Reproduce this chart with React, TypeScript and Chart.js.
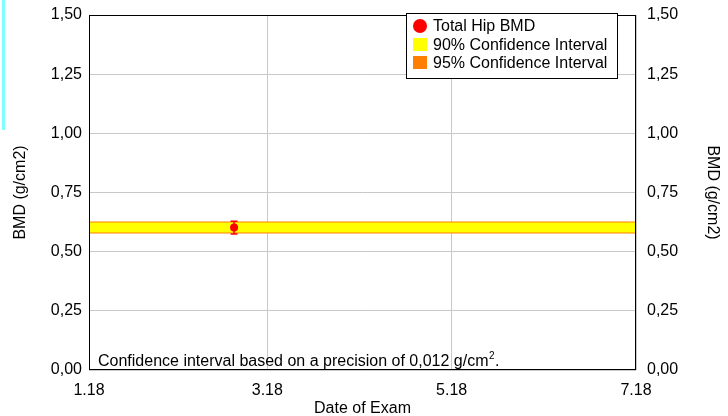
import React, { useEffect, useRef } from "react";
import { Chart, registerables } from "chart.js";

Chart.register(...registerables);

// ---- data ----
const tickDates = ["2018-01-01", "2018-03-01", "2018-05-01", "2018-07-01"];
const tickLabels = ["1.18", "3.18", "5.18", "7.18"];
const examDates = ["2018-02-18"];
const bmdValues = [0.602];
const bmdErrLow = [0.575];
const bmdErrHigh = [0.629];
const ci90 = [0.581, 0.623];
const ci95 = [0.577, 0.627];
const yMin = 0;
const yMax = 1.5;
const yStep = 0.25;
const legendLabels = ["Total Hip BMD", "90% Confidence Interval", "95% Confidence Interval"];
const noteText = "Confidence interval based on a precision of 0,012 g/cm";
const noteSup = "2";
const noteEnd = ".";
const xTitle = "Date of Exam";
const yTitle = "BMD (g/cm2)";

const FONT = "'Liberation Sans', Arial, sans-serif";
const RED = "#ff0000";
const YELLOW = "#ffff00";
const ORANGE = "#ff8000";
const GRID = "#c8c8c8";

const day = (s: string) => (Date.parse(s) - Date.parse(tickDates[0])) / 86400000;
const tickDays = tickDates.map(day);
const xMin = tickDays[0];
const xMax = tickDays[tickDays.length - 1];

const fmtY = (v: number) => v.toFixed(2).replace(".", ",");

const overlayPlugin = {
  id: "overlay",
  afterDatasetsDraw(chart: any) {
    const { ctx, scales } = chart;
    const xs = scales.x;
    const ys = scales.y;
    ctx.save();
    ctx.strokeStyle = RED;
    ctx.lineWidth = 1.5;
    examDates.forEach((d, i) => {
      const px = xs.getPixelForValue(day(d));
      const pLo = ys.getPixelForValue(bmdErrLow[i]);
      const pHi = ys.getPixelForValue(bmdErrHigh[i]);
      ctx.beginPath();
      ctx.moveTo(px, pLo);
      ctx.lineTo(px, pHi);
      ctx.moveTo(px - 3.5, pLo);
      ctx.lineTo(px + 3.5, pLo);
      ctx.moveTo(px - 3.5, pHi);
      ctx.lineTo(px + 3.5, pHi);
      ctx.stroke();
    });
    ctx.restore();
  },
  afterDraw(chart: any) {
    const { ctx, chartArea } = chart;
    ctx.save();
    // frame
    ctx.strokeStyle = "#000";
    ctx.lineWidth = 1;
    ctx.strokeRect(
      Math.round(chartArea.left) + 0.5,
      Math.round(chartArea.top) + 0.5,
      Math.round(chartArea.right - chartArea.left) - 1,
      Math.round(chartArea.bottom - chartArea.top) - 1
    );

    // note text
    ctx.fillStyle = "#000";
    ctx.textBaseline = "alphabetic";
    ctx.textAlign = "left";
    ctx.font = `16px ${FONT}`;
    const nx = chartArea.left + 9;
    const ny = chartArea.bottom - 4;
    ctx.fillText(noteText, nx, ny);
    const w = ctx.measureText(noteText).width;
    ctx.font = `10px ${FONT}`;
    ctx.fillText(noteSup, nx + w + 0.5, ny - 7);
    const ws = ctx.measureText(noteSup).width;
    ctx.font = `16px ${FONT}`;
    ctx.fillText(noteEnd, nx + w + ws + 1, ny);

    // legend
    const lx = 406.5;
    const ly = 13.5;
    const lw = 211;
    const lh = 65;
    ctx.fillStyle = "#fff";
    ctx.fillRect(lx, ly, lw, lh);
    ctx.strokeStyle = "#000";
    ctx.strokeRect(lx, ly, lw, lh);
    const rows = [26, 44.5, 62.5];
    ctx.fillStyle = RED;
    ctx.beginPath();
    ctx.arc(420, rows[0], 7, 0, Math.PI * 2);
    ctx.fill();
    ctx.fillStyle = YELLOW;
    ctx.fillRect(413, rows[1] - 6.5, 14, 13);
    ctx.fillStyle = ORANGE;
    ctx.fillRect(413, rows[2] - 6.5, 14, 13);
    ctx.fillStyle = "#000";
    ctx.font = `16px ${FONT}`;
    ctx.textBaseline = "middle";
    legendLabels.forEach((t, i) => ctx.fillText(t, 433, rows[i] + 1));
    ctx.restore();
  },
};

export default function App() {
  const ref = useRef<HTMLCanvasElement | null>(null);
  useEffect(() => {
    if (!ref.current) return;
    Chart.defaults.font.family = FONT;
    Chart.defaults.font.size = 16;
    Chart.defaults.color = "#000";
    const band = (v: number) => [
      { x: xMin, y: v },
      { x: xMax, y: v },
    ];
    const yAxisCommon = {
      type: "linear",
      min: yMin,
      max: yMax,
      border: { display: false },
    };
    const chart = new Chart(ref.current, {
      type: "line",
      data: {
        datasets: [
          {
            label: legendLabels[0],
            data: examDates.map((d, i) => ({ x: day(d), y: bmdValues[i] })),
            showLine: false,
            pointRadius: 4,
            pointBackgroundColor: RED,
            pointBorderColor: RED,
            pointBorderWidth: 0,
            order: 0,
          },
          {
            label: "90 hi",
            data: band(ci90[1]),
            borderWidth: 0,
            pointRadius: 0,
            fill: "+1",
            backgroundColor: YELLOW,
            borderColor: YELLOW,
            order: 1,
          },
          {
            label: "90 lo",
            data: band(ci90[0]),
            borderWidth: 0,
            pointRadius: 0,
            fill: false,
            borderColor: YELLOW,
            order: 1,
          },
          {
            label: "95 hi",
            data: band(ci95[1]),
            borderWidth: 0,
            pointRadius: 0,
            fill: "+1",
            backgroundColor: ORANGE,
            borderColor: ORANGE,
            order: 2,
          },
          {
            label: "95 lo",
            data: band(ci95[0]),
            borderWidth: 0,
            pointRadius: 0,
            fill: false,
            borderColor: ORANGE,
            order: 2,
          },
        ],
      },
      options: {
        responsive: false,
        animation: false,
        layout: { padding: { top: 15, left: 0, right: 0, bottom: 0 } },
        plugins: {
          legend: { display: false },
          tooltip: { enabled: false },
        },
        scales: {
          x: {
            type: "linear",
            min: xMin,
            max: xMax,
            afterBuildTicks: (s: any) => {
              s.ticks = tickDays.map((v) => ({ value: v }));
            },
            ticks: {
              callback: (v: any) => tickLabels[tickDays.indexOf(Number(v))],
              padding: 11,
              maxRotation: 0,
              autoSkip: false,
              font: { size: 16 },
            },
            grid: { color: GRID, drawTicks: false },
            border: { display: false },
            title: {
              display: true,
              text: xTitle,
              font: { size: 16, lineHeight: 0.95 },
              padding: { top: 0, bottom: 0 },
            },
            afterFit: (s: any) => {
              s.height = 46;
            },
          },
          y: {
            ...yAxisCommon,
            position: "left",
            ticks: { stepSize: yStep, callback: (v: any) => fmtY(Number(v)), padding: 7 },
            grid: { color: GRID, drawTicks: false },
            title: {
              display: true,
              text: yTitle,
              font: { size: 16 },
              padding: { top: 11, bottom: 0 },
            },
            afterFit: (s: any) => {
              s.width = 89;
              s.paddingTop = 0;
              s.paddingBottom = 0;
            },
          },
          y1: {
            ...yAxisCommon,
            position: "right",
            ticks: { stepSize: yStep, callback: (v: any) => fmtY(Number(v)), padding: 11 },
            grid: { drawOnChartArea: false, drawTicks: false },
            title: {
              display: true,
              text: yTitle,
              font: { size: 16 },
              padding: { top: 6, bottom: 0 },
            },
            afterFit: (s: any) => {
              s.width = 92;
              s.paddingTop = 0;
              s.paddingBottom = 0;
            },
          },
        },
      } as any,
      plugins: [overlayPlugin],
    } as any);
    return () => chart.destroy();
  }, []);

  return (
    <div
      style={{
        position: "fixed",
        left: 0,
        top: 0,
        width: 728,
        height: 416,
        background: "#fff",
      }}
    >
      <div
        style={{
          position: "absolute",
          left: 2,
          top: 0,
          width: 3,
          height: 130,
          background: "#80ffff",
        }}
      />
      <canvas ref={ref} width={728} height={416} style={{ display: "block" }} />
    </div>
  );
}
